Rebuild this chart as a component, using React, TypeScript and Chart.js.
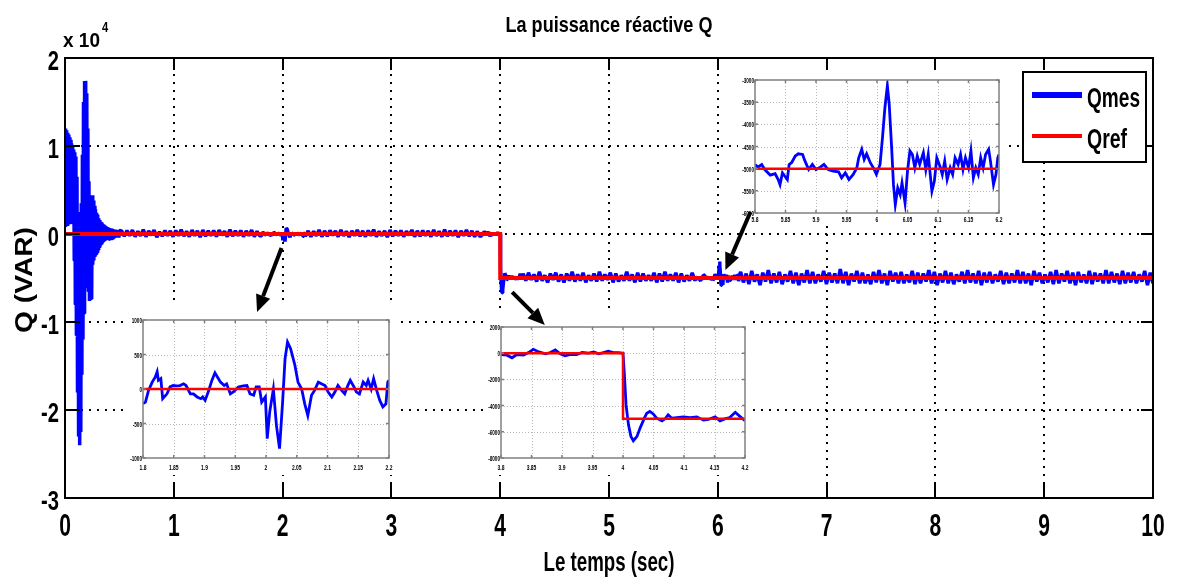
import React, { useEffect, useRef } from "react";
import { Chart, registerables } from "chart.js";
Chart.register(...registerables);

const FONT = '"Liberation Sans", Arial, sans-serif';

// ---------------- DATA ----------------
const mainXTicks = [0, 1, 2, 3, 4, 5, 6, 7, 8, 9, 10];
const mainXTickLabels = ["0", "1", "2", "3", "4", "5", "6", "7", "8", "9", "10"];
const mainYTicks = [-30000, -20000, -10000, 0, 10000, 20000];
const mainYTickLabels = ["-3", "-2", "-1", "0", "1", "2"];

// Qref (step)
const refT = [0, 4, 4, 10];
const refQ = [0, 0, -5000, -5000];

// Qmes: start-up transient, 0 .. 0.5 s
const transientQ = [
  12000, 800, 11800, 1200, 11500, 900, 11300, 1500, 11000, 1100,
  10700, 1800, 10300, 1300, 9900, 2000, 9600, -3000, 9300, -8000,
  8800, -11500, 6500, -18000, 2500, -23000, 1500, -24000, 2000, -22500,
  3500, -16000, 9000, -12000, 15000, -9000, 17400, -6000, 17400, -4000,
  16000, -5500, 12000, -6500, 6000, -7600, 4400, -7500, 4000, -7400,
  4400, -3500, 3800, -3000, 3200, -2600, 2800, -2300, 2400, -2100,
  2200, -1800, 1800, -1500, 1600, -1200, 1400, -1100, 1300, -1000,
  1100, -900, 1000, -800, 900, -700, 800, -700, 750, -650,
  700, -600, 650, -550, 600, -500, 600, -500, 550, -450,
  500, -450, 500, -400, 450, -400, 450, -350, 400, -400, 400,
];

// Qmes noise, 0.52 .. 1.79 s
const noise1Q = [
  350, -250, 400, -200, 450, -300, 300, -200, 500, -300, 350, -150, 450,
  -350, 250, -250, 400, -200, 350, -300, 400, -200, 500, -250, 300, -300,
  450, -200, 350, -350, 450, -250, 350, -200, 400, -300, 450, -150, 300,
  -300, 500, -250, 350, -200, 400, -300, 350, -200, 450, -300, 300, -200,
];

// Qmes detail 1.8 .. 2.2 s (inset 1)
const inset1T = [
  1.800, 1.804, 1.809, 1.815, 1.820, 1.823, 1.825, 1.829, 1.832, 1.839,
  1.844, 1.849, 1.855, 1.860, 1.866, 1.870, 1.877, 1.882, 1.888, 1.894,
  1.897, 1.901, 1.906, 1.912, 1.917, 1.921, 1.926, 1.932, 1.936, 1.942,
  1.948, 1.955, 1.963, 1.969, 1.974, 1.980, 1.984, 1.989, 1.993, 1.999,
  2.002, 2.006, 2.012, 2.017, 2.022, 2.027, 2.031, 2.035, 2.040, 2.047,
  2.052, 2.058, 2.063, 2.068, 2.074, 2.079, 2.085, 2.090, 2.096, 2.101,
  2.107, 2.112, 2.117, 2.123, 2.128, 2.133, 2.137, 2.143, 2.147, 2.152,
  2.158, 2.163, 2.166, 2.171, 2.175, 2.180, 2.185, 2.190, 2.195, 2.198,
  2.200,
];
const inset1Q = [
  -213, -190, -20, 100, 175, 250, 125, 150, -140, -70,
  30, 50, 45, 50, 75, 50, -70, -70, -115, -140,
  -115, -165, -45, 125, 235, 175, 100, 50, 75, -70,
  -35, 30, 45, 50, -70, -90, 30, 30, -190, -115,
  -720, -335, 0, -530, -865, -190, 440, 680, 585, 345,
  100, 0, -215, -385, -90, -20, 100, 75, 50, -45,
  -115, -45, 50, -20, -70, 50, 125, 30, -45, -70,
  100, 50, 125, 0, 150, -20, -165, -260, -215, 100,
  125,
];

// Qmes noise, 2.21 .. 3.79 s
const noise2Q = [
  -250, 350, -300, 300, -200, 450, -300, 350, -250, 400, -150, 350, -300,
  450, -200, 300, -350, 350, -200, 450, -250, 350, -300, 400, -200, 500,
  -300, 300, -200, 350, -350, 450, -250, 350, -200, 400, -300, 300, -150,
  450, -300, 350, -250, 400, -200, 350, -300, 450, -200, 300, -300, 500,
  -250, 350, -200, 400, -350, 350, -200, 450, -250, 350, -300, 300,
];

// Qmes detail 3.8 .. 4.2 s (inset 2)
const inset2T = [
  3.800, 3.810, 3.818, 3.826, 3.837, 3.845, 3.853, 3.862, 3.873, 3.881,
  3.889, 3.897, 3.905, 3.914, 3.924, 3.933, 3.944, 3.952, 3.960, 3.968,
  3.976, 3.984, 3.993, 4.000, 4.002, 4.005, 4.009, 4.013, 4.017, 4.023,
  4.028, 4.035, 4.039, 4.044, 4.050, 4.055, 4.064, 4.069, 4.074, 4.080,
  4.088, 4.099, 4.110, 4.121, 4.132, 4.140, 4.151, 4.159, 4.167, 4.175,
  4.184, 4.192, 4.200,
];
const inset2Q = [
  -100, -150, -350, -100, -150, 50, 300, 100, -50, 50,
  250, -50, -200, -100, -100, 50, 0, 100, -50, 50,
  150, 50, 50, 0, -1400, -3950, -5470, -6350, -6680, -6350,
  -5720, -4960, -4580, -4450, -4660, -4960, -5160, -5010, -4700, -4960,
  -4910, -4860, -4910, -4860, -5110, -5060, -4860, -5160, -5010, -4910,
  -4510, -4840, -5160,
];

// Qmes noise, 4.21 .. 5.79 s
const noise3Q = [
  -4500, -5300, -4400, -5200, -4600, -5400, -4300, -5300, -4700, -5500, -4500,
  -5200, -4400, -5400, -4600, -5500, -4500, -5300, -4300, -5400, -4600, -5300,
  -4400, -5500, -4700, -5300, -4500, -5400, -4300, -5300, -4600, -5200, -4400,
  -5500, -4500, -5400, -4700, -5300, -4300, -5300, -4600, -5500, -4400, -5400,
  -4500, -5300, -4700, -5300, -4400, -5500, -4500, -5400, -4300, -5300, -4600,
  -5300, -4400, -5500, -4500, -5400, -4700, -5300, -4400, -5300,
];

// Qmes detail 5.8 .. 6.2 s (inset 3)
const inset3T = [
  5.800, 5.805, 5.811, 5.816, 5.825, 5.833, 5.838, 5.841, 5.845, 5.849,
  5.853, 5.856, 5.860, 5.866, 5.871, 5.878, 5.882, 5.888, 5.894, 5.900,
  5.907, 5.913, 5.920, 5.928, 5.937, 5.942, 5.948, 5.954, 5.961, 5.967,
  5.970, 5.975, 5.979, 5.983, 5.989, 5.994, 5.999, 6.005, 6.009, 6.013,
  6.017, 6.020, 6.024, 6.027, 6.030, 6.034, 6.038, 6.041, 6.046, 6.050,
  6.054, 6.058, 6.062, 6.066, 6.070, 6.076, 6.080, 6.084, 6.090, 6.094,
  6.098, 6.104, 6.107, 6.111, 6.115, 6.120, 6.124, 6.128, 6.133, 6.137,
  6.141, 6.145, 6.150, 6.154, 6.158, 6.162, 6.166, 6.170, 6.174, 6.178,
  6.183, 6.186, 6.191, 6.195, 6.198, 6.200,
];
const inset3Q = [
  -4905, -4965, -4905, -5020, -5145, -5115, -5245, -5360, -5095, -5170,
  -5245, -4905, -4865, -4715, -4665, -4680, -4830, -5020, -4905, -5020,
  -4965, -4905, -5020, -5055, -5070, -5205, -5095, -5245, -5130, -4980,
  -4755, -4565, -4790, -4665, -4865, -4980, -5130, -4905, -4300, -3620,
  -3130, -3545, -4525, -5360, -5810, -5435, -5585, -5320, -5775, -5055,
  -4600, -4680, -4980, -4715, -4905, -4640, -5020, -4680, -5510, -5285,
  -4755, -4980, -5130, -4830, -5245, -4980, -5130, -4755, -4905, -4680,
  -5020, -4755, -4980, -4600, -5205, -4980, -5130, -4755, -4980, -4680,
  -4565, -4830, -5360, -5130, -4755, -4680,
];

// Qmes noise, 6.21 .. 10 s
const noise4Q = [
  -4300, -5500, -4500, -5700, -4200, -5400, -4600, -5800, -4400, -5400,
  -4100, -5600, -4500, -5500, -4300, -5700, -4600, -5400, -4200, -5600,
  -4400, -5800, -4500, -5500, -4100, -5600, -4300, -5600, -4600, -5400,
  -4200, -5700, -4400, -5500, -4500, -5600, -4000, -5600, -4300, -5800,
  -4500, -5400, -4200, -5600, -4400, -5600, -4600, -5700, -4300, -5500,
  -4100, -5600, -4500, -5800, -4200, -5400, -4400, -5600, -4300, -5600,
  -4600, -5500, -4200, -5700, -4400, -5600, -4500, -5400, -4100, -5600,
  -4300, -5800, -4500, -5500, -4200, -5600, -4400, -5700, -4600, -5400,
  -4300, -5600, -4100, -5500, -4500, -5600, -4200, -5800, -4400, -5500,
  -4300, -5600, -4600, -5400, -4200, -5700, -4400, -5600, -4500, -5500,
  -4100, -5600, -4300, -5600, -4500, -5800, -4200, -5400, -4400, -5600,
  -4600, -5500, -4300, -5700, -4100, -5600, -4500, -5400, -4200, -5600,
  -4400, -5800, -4300, -5500, -4600, -5600, -4200, -5700, -4400, -5400,
  -4500, -5600, -4100, -5600, -4300, -5500, -4500, -5700, -4200, -5600,
  -4400, -5500, -4300, -5600, -4600, -5400, -4200, -5800, -4400, -5600,
];

// inset tick values / labels
const inset1XTicks = [1.8, 1.85, 1.9, 1.95, 2, 2.05, 2.1, 2.15, 2.2];
const inset1XLabels = ["1.8", "1.85", "1.9", "1.95", "2", "2.05", "2.1", "2.15", "2.2"];
const inset1YTicks = [-1000, -500, 0, 500, 1000];
const inset1YLabels = ["-1000", "-500", "0", "500", "1000"];

const inset2XTicks = [3.8, 3.85, 3.9, 3.95, 4, 4.05, 4.1, 4.15, 4.2];
const inset2XLabels = ["3.8", "3.85", "3.9", "3.95", "4", "4.05", "4.1", "4.15", "4.2"];
const inset2YTicks = [-8000, -6000, -4000, -2000, 0, 2000];
const inset2YLabels = ["-8000", "-6000", "-4000", "-2000", "0", "2000"];

const inset3XTicks = [5.8, 5.85, 5.9, 5.95, 6, 6.05, 6.1, 6.15, 6.2];
const inset3XLabels = ["5.8", "5.85", "5.9", "5.95", "6", "6.05", "6.1", "6.15", "6.2"];
const inset3YTicks = [-6000, -5500, -5000, -4500, -4000, -3500, -3000];
const inset3YLabels = ["-6000", "-5500", "-5000", "-4500", "-4000", "-3500", "-3000"];

// arrows pointing from the main curve to each inset (data coordinates: [t, Q])
const arrowTails = [[1.99, -1600], [4.11, -6600], [6.3, 2500]];
const arrowHeads = [[1.765, -8860], [4.41, -10340], [6.07, -4100]];

// ---------------- helpers ----------------
type Pt = { x: number; y: number };
function evenSeg(t0: number, t1: number, q: number[]): Pt[] {
  const n = q.length;
  return q.map((v, i) => ({ x: t0 + (i * (t1 - t0)) / (n - 1), y: v }));
}
function pairs(t: number[], q: number[]): Pt[] {
  return t.map((x, i) => ({ x, y: q[i] }));
}

const qmes: Pt[] = [
  ...evenSeg(0, 0.5, transientQ),
  ...evenSeg(0.52, 1.79, noise1Q),
  ...pairs(inset1T, inset1Q),
  ...evenSeg(2.21, 3.79, noise2Q),
  ...pairs(inset2T, inset2Q),
  ...evenSeg(4.21, 5.79, noise3Q),
  ...pairs(inset3T, inset3Q),
  ...evenSeg(6.21, 10, noise4Q),
];
const qref: Pt[] = pairs(refT, refQ);

function drawText(
  ctx: CanvasRenderingContext2D,
  text: string,
  x: number,
  y: number,
  o: { size: number; weight?: string; align?: CanvasTextAlign; sx?: number; width?: number; rotate?: number; color?: string }
) {
  ctx.save();
  ctx.font = `${o.weight ?? "bold"} ${o.size}px ${FONT}`;
  const w = ctx.measureText(text).width;
  const sx = o.width ? o.width / w : o.sx ?? 1;
  ctx.translate(x, y);
  if (o.rotate) ctx.rotate(o.rotate);
  ctx.scale(sx, 1);
  ctx.textAlign = o.align ?? "center";
  ctx.textBaseline = "alphabetic";
  ctx.fillStyle = o.color ?? "#000";
  ctx.fillText(text, 0, 0);
  ctx.restore();
}

const mainDecor = {
  id: "mainDecor",
  beforeDatasetsDraw(chart: any) {
    const { ctx, chartArea: a } = chart;
    const xs = chart.scales.x, ys = chart.scales.y;
    ctx.save();
    ctx.strokeStyle = "#000";
    ctx.lineWidth = 2;
    ctx.setLineDash([2, 6]);
    ctx.beginPath();
    mainXTicks.forEach((v) => {
      if (v <= xs.min || v >= xs.max) return;
      const p = Math.round(xs.getPixelForValue(v));
      ctx.moveTo(p, a.top);
      ctx.lineTo(p, a.bottom);
    });
    mainYTicks.forEach((v) => {
      if (v <= ys.min || v >= ys.max) return;
      const p = Math.round(ys.getPixelForValue(v));
      ctx.moveTo(a.left, p);
      ctx.lineTo(a.right, p);
    });
    ctx.stroke();
    ctx.restore();
  },
  afterDraw(chart: any) {
    const { ctx, chartArea: a } = chart;
    const xs = chart.scales.x, ys = chart.scales.y;
    ctx.save();
    ctx.strokeStyle = "#000";
    ctx.lineWidth = 2;
    ctx.setLineDash([]);
    ctx.strokeRect(a.left, a.top, a.right - a.left, a.bottom - a.top);
    ctx.beginPath();
    mainXTicks.forEach((v) => {
      const p = Math.round(xs.getPixelForValue(v));
      ctx.moveTo(p, a.bottom); ctx.lineTo(p, a.bottom - 15);
      ctx.moveTo(p, a.top); ctx.lineTo(p, a.top + 12);
    });
    mainYTicks.forEach((v) => {
      const p = Math.round(ys.getPixelForValue(v));
      ctx.moveTo(a.left, p); ctx.lineTo(a.left + 15, p);
      ctx.moveTo(a.right, p); ctx.lineTo(a.right - 12, p);
    });
    ctx.stroke();
    ctx.restore();

    mainXTicks.forEach((v, i) => {
      drawText(ctx, mainXTickLabels[i], xs.getPixelForValue(v), a.bottom + 38, { size: 31, sx: 0.68 });
    });
    mainYTicks.forEach((v, i) => {
      drawText(ctx, mainYTickLabels[i], a.left - 6, ys.getPixelForValue(v) + 12, { size: 28, sx: 0.72, align: "right" });
    });
    drawText(ctx, "x 10", a.left - 2, a.top - 11, { size: 21, width: 37, align: "left" });
    drawText(ctx, "4", a.left + 37, a.top - 26, { size: 14, sx: 0.8, align: "left" });

    const cx = (a.left + a.right) / 2;
    drawText(ctx, "La puissance réactive Q", cx, 32, { size: 22, width: 207 });
    drawText(ctx, "Le temps (sec)", cx, 571, { size: 28, width: 131 });
    drawText(ctx, "Q (VAR)", 32, (a.top + a.bottom) / 2 + 2, { size: 23, width: 106, rotate: -Math.PI / 2 });

    // legend
    const lx = 1023, ly = 72, lw = 123, lh = 90;
    ctx.save();
    ctx.fillStyle = "#fff";
    ctx.fillRect(lx, ly, lw, lh);
    ctx.strokeStyle = "#000";
    ctx.lineWidth = 2;
    ctx.strokeRect(lx, ly, lw, lh);
    const ds = chart.data.datasets;
    const rows = [95, 136];
    const widths = [6, 4];
    const textW = [53, 40];
    ds.forEach((d: any, i: number) => {
      ctx.beginPath();
      ctx.strokeStyle = d.borderColor;
      ctx.lineWidth = widths[i];
      ctx.moveTo(lx + 9, rows[i]);
      ctx.lineTo(lx + 59, rows[i]);
      ctx.stroke();
      drawText(ctx, d.label, lx + 64, rows[i] + 12, { size: 27, width: textW[i], align: "left" });
    });
    ctx.restore();
  },
};

function insetDecor(xt: number[], xl: string[], yt: number[], yl: string[], xGap: number) {
  return {
    id: "insetDecor",
    beforeDatasetsDraw(chart: any) {
      const { ctx, chartArea: a } = chart;
      const xs = chart.scales.x, ys = chart.scales.y;
      ctx.save();
      ctx.strokeStyle = "#b8b8b8";
      ctx.lineWidth = 1;
      ctx.setLineDash([1, 2]);
      ctx.beginPath();
      xt.forEach((v) => {
        if (v <= xs.min + 1e-9 || v >= xs.max - 1e-9) return;
        const p = Math.round(xs.getPixelForValue(v)) + 0.5;
        ctx.moveTo(p, a.top); ctx.lineTo(p, a.bottom);
      });
      yt.forEach((v) => {
        if (v <= ys.min || v >= ys.max) return;
        const p = Math.round(ys.getPixelForValue(v)) + 0.5;
        ctx.moveTo(a.left, p); ctx.lineTo(a.right, p);
      });
      ctx.stroke();
      ctx.restore();
    },
    afterDraw(chart: any) {
      const { ctx, chartArea: a } = chart;
      const xs = chart.scales.x, ys = chart.scales.y;
      ctx.save();
      ctx.strokeStyle = "#808080";
      ctx.lineWidth = 1.5;
      ctx.strokeRect(a.left, a.top, a.right - a.left, a.bottom - a.top);
      ctx.beginPath();
      xt.forEach((v) => {
        const p = xs.getPixelForValue(v);
        ctx.moveTo(p, a.bottom); ctx.lineTo(p, a.bottom - 3);
        ctx.moveTo(p, a.top); ctx.lineTo(p, a.top + 3);
      });
      yt.forEach((v) => {
        const p = ys.getPixelForValue(v);
        ctx.moveTo(a.left, p); ctx.lineTo(a.left + 3, p);
        ctx.moveTo(a.right, p); ctx.lineTo(a.right - 3, p);
      });
      ctx.stroke();
      ctx.restore();
      xt.forEach((v, i) => drawText(ctx, xl[i], xs.getPixelForValue(v), a.bottom + xGap, { size: 8, sx: 0.62 }));
      yt.forEach((v, i) => drawText(ctx, yl[i], a.left - 1, ys.getPixelForValue(v) + 3, { size: 8, sx: 0.58, align: "right" }));
    },
  };
}

type InsetCfg = {
  left: number; top: number; w: number; h: number;
  padL: number; padT: number; padR: number; padB: number;
  xMin: number; xMax: number; yMin: number; yMax: number;
  t: number[]; q: number[];
  xt: number[]; xl: string[]; yt: number[]; yl: string[]; xGap: number;
};

const INSETS: InsetCfg[] = [
  { left: 128, top: 305, w: 267, h: 170, padL: 15, padT: 15, padR: 6, padB: 17,
    xMin: 1.8, xMax: 2.2, yMin: -1000, yMax: 1000, t: inset1T, q: inset1Q,
    xt: inset1XTicks, xl: inset1XLabels, yt: inset1YTicks, yl: inset1YLabels, xGap: 12 },
  { left: 487, top: 310, w: 265, h: 165, padL: 14, padT: 17, padR: 7, padB: 17,
    xMin: 3.8, xMax: 4.2, yMin: -8000, yMax: 2000, t: inset2T, q: inset2Q,
    xt: inset2XTicks, xl: inset2XLabels, yt: inset2YTicks, yl: inset2YLabels, xGap: 12 },
  { left: 738, top: 70, w: 265, h: 155, padL: 17, padT: 10, padR: 4, padB: 12,
    xMin: 5.8, xMax: 6.2, yMin: -6000, yMax: -3000, t: inset3T, q: inset3Q,
    xt: inset3XTicks, xl: inset3XLabels, yt: inset3YTicks, yl: inset3YLabels, xGap: 9 },
];

export default function App() {
  const mainRef = useRef<HTMLCanvasElement>(null);
  const overlayRef = useRef<HTMLCanvasElement>(null);
  const insetRefs = [useRef<HTMLCanvasElement>(null), useRef<HTMLCanvasElement>(null), useRef<HTMLCanvasElement>(null)];

  useEffect(() => {
    const charts: Chart[] = [];
    const main = new Chart(mainRef.current!, {
      type: "line",
      data: {
        datasets: [
          { label: "Qmes", data: qmes as any, borderColor: "#0000ff", borderWidth: 3.5, pointRadius: 0, tension: 0, order: 2, borderJoinStyle: "bevel" },
          { label: "Qref", data: qref as any, borderColor: "#ff0000", borderWidth: 4, pointRadius: 0, tension: 0, order: 1 },
        ],
      },
      options: {
        animation: false,
        responsive: false,
        devicePixelRatio: 1,
        events: [],
        parsing: false,
        layout: { padding: { left: 0, top: 58, right: 27, bottom: 0 } },
        scales: {
          x: {
            type: "linear", min: 0, max: 10,
            ticks: { display: false }, grid: { display: false }, border: { display: false },
            afterFit: (s: any) => { s.height = 81; },
          },
          y: {
            type: "linear", min: -30000, max: 20000,
            ticks: { display: false }, grid: { display: false }, border: { display: false },
            afterFit: (s: any) => { s.width = 65; },
          },
        },
        plugins: { legend: { display: false }, tooltip: { enabled: false }, title: { display: false } },
      } as any,
      plugins: [mainDecor],
    });
    charts.push(main);

    INSETS.forEach((c, k) => {
      const ch = new Chart(insetRefs[k].current!, {
        type: "line",
        data: {
          datasets: [
            { label: "Qmes", data: pairs(c.t, c.q) as any, borderColor: "#0000ff", borderWidth: 2.8, pointRadius: 0, tension: 0, order: 2 },
            { label: "Qref", data: qref as any, borderColor: "#ff0000", borderWidth: 2.5, pointRadius: 0, tension: 0, order: 1 },
          ],
        },
        options: {
          animation: false,
          responsive: false,
          devicePixelRatio: 1,
          events: [],
          parsing: false,
          layout: { padding: { left: 0, top: c.padT, right: c.padR, bottom: 0 } },
          scales: {
            x: {
              type: "linear", min: c.xMin, max: c.xMax,
              ticks: { display: false }, grid: { display: false }, border: { display: false },
              afterFit: (s: any) => { s.height = c.padB; },
            },
            y: {
              type: "linear", min: c.yMin, max: c.yMax,
              ticks: { display: false }, grid: { display: false }, border: { display: false },
              afterFit: (s: any) => { s.width = c.padL; },
            },
          },
          plugins: { legend: { display: false }, tooltip: { enabled: false }, title: { display: false } },
        } as any,
        plugins: [insetDecor(c.xt, c.xl, c.yt, c.yl, c.xGap)],
      });
      charts.push(ch);
    });

    // arrows on top of everything
    const oc = overlayRef.current!;
    const octx = oc.getContext("2d")!;
    octx.clearRect(0, 0, oc.width, oc.height);
    const xs: any = main.scales.x, ys: any = main.scales.y;
    arrowTails.forEach((tail, i) => {
      const head = arrowHeads[i];
      const x1 = xs.getPixelForValue(tail[0]), y1 = ys.getPixelForValue(tail[1]);
      const x2 = xs.getPixelForValue(head[0]), y2 = ys.getPixelForValue(head[1]);
      const ang = Math.atan2(y2 - y1, x2 - x1);
      const hl = 17, hw = 7.5;
      const bx = x2 - hl * Math.cos(ang), by = y2 - hl * Math.sin(ang);
      octx.save();
      octx.strokeStyle = "#000";
      octx.fillStyle = "#000";
      octx.lineWidth = 4;
      octx.beginPath();
      octx.moveTo(x1, y1);
      octx.lineTo(bx, by);
      octx.stroke();
      octx.beginPath();
      octx.moveTo(x2, y2);
      octx.lineTo(bx + hw * Math.sin(ang), by - hw * Math.cos(ang));
      octx.lineTo(bx - hw * Math.sin(ang), by + hw * Math.cos(ang));
      octx.closePath();
      octx.fill();
      octx.restore();
    });

    return () => {
      charts.forEach((c) => c.destroy());
    };
  }, []);

  return (
    <div style={{ position: "fixed", left: 0, top: 0, width: 1180, height: 579, background: "#fff", overflow: "hidden" }}>
      <canvas ref={mainRef} width={1180} height={579} style={{ position: "absolute", left: 0, top: 0 }} />
      {INSETS.map((c, k) => (
        <canvas
          key={k}
          ref={insetRefs[k]}
          width={c.w}
          height={c.h}
          style={{ position: "absolute", left: c.left, top: c.top, width: c.w, height: c.h, background: "#fff" }}
        />
      ))}
      <canvas ref={overlayRef} width={1180} height={579} style={{ position: "absolute", left: 0, top: 0, pointerEvents: "none" }} />
    </div>
  );
}
